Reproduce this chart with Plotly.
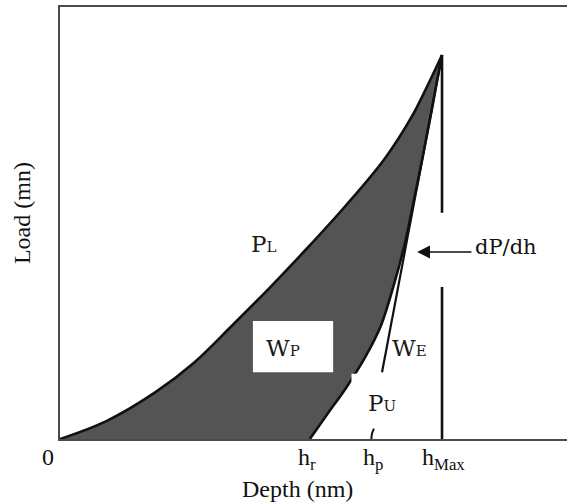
import plotly.graph_objects as go

# ---- data (depth in arbitrary units, h_max = 100; load, P_max = 100) ----
depth_load = [0, 12, 25, 35, 45, 55, 65, 75, 85, 92, 96, 100]
load_load = [0, 4.6, 12.2, 19.8, 29.5, 39.5, 50.0, 61.0, 73.0, 83.8, 91.6, 100]

depth_unload = [65.4, 70, 75, 80, 84, 87.5, 90.3, 92.4, 94.8, 96.9, 98.7, 100]
load_unload = [0, 6.5, 13.5, 21.5, 29.5, 40.5, 51.0, 61.0, 72.7, 83.5, 93.2, 100]

tangent_depth = [84.3, 100]
tangent_load = [17.4, 100]

h_r = 65.4
h_p = 81.7
h_max = 100
p_max = 100
gap_top, gap_bottom = 58.9, 39.6

tick_vals = [0, h_r, h_p, h_max]
tick_text = ["0", "h<sub>r</sub>", "h<sub>p</sub>", "h<sub>Max</sub>"]

SERIF = "Liberation Serif"
SLAB = "DejaVu Serif"
INK = "#111111"

fig = go.Figure()

# shaded region between loading and unloading curves
fig.add_trace(go.Scatter(
    x=depth_load + depth_unload[::-1],
    y=load_load + load_unload[::-1],
    mode="lines", fill="toself", fillcolor="#545454",
    line=dict(width=0, shape="spline", smoothing=1.0),
    hoverinfo="skip", showlegend=False))

# loading curve
fig.add_trace(go.Scatter(x=depth_load, y=load_load, mode="lines",
                         line=dict(color=INK, width=2.6, shape="spline", smoothing=1.0),
                         showlegend=False))
# unloading curve
fig.add_trace(go.Scatter(x=depth_unload, y=load_unload, mode="lines",
                         line=dict(color=INK, width=2.6, shape="spline", smoothing=1.0),
                         showlegend=False))
# tangent (dP/dh)
fig.add_trace(go.Scatter(x=tangent_depth, y=tangent_load, mode="lines",
                         line=dict(color=INK, width=2.2), showlegend=False))
# h_max vertical line with a gap for the arrow
fig.add_trace(go.Scatter(x=[h_max, h_max, None, h_max, h_max],
                         y=[p_max, gap_top, None, gap_bottom, 0], mode="lines",
                         line=dict(color=INK, width=2.6), showlegend=False))
# small h_p mark
fig.add_trace(go.Scatter(x=[h_p - 0.2, h_p, h_p + 0.5], y=[0, 1.5, 2.7], mode="lines",
                         line=dict(color=INK, width=2, shape="spline"), showlegend=False))

# white label box for Wp
fig.add_shape(type="rect", x0=50.5, x1=71.5, y0=17.4, y1=30.7,
              fillcolor="white", line=dict(width=0), layer="above")
# small white corner (Pu label box)
fig.add_shape(type="rect", x0=76.3, x1=79.5, y0=14.0, y1=17.0,
              fillcolor="white", line=dict(width=0), layer="above")


def lab(big, small, x, y, size=23, ssize=15):
    fig.add_annotation(x=x, y=y, xref="x", yref="y", showarrow=False,
                       text=f"{big}<span style='font-size:{ssize}px'>{small}</span>",
                       font=dict(family=SLAB, size=size, color="#1a1a1a"))


lab("P", "L", 53.2, 50.8)
lab("W", "P", 58.3, 23.6)
lab("W", "E", 91.4, 23.6)
lab("P", "U", 84.2, 9.3)

# dP/dh arrow
fig.add_annotation(x=93.5, y=48.7, ax=108.1, ay=48.7, xref="x", yref="y",
                   axref="x", ayref="y", text="", showarrow=True,
                   arrowhead=2, arrowsize=1.6, arrowwidth=1.6, arrowcolor=INK)
fig.add_annotation(x=108.0, y=50.0, xref="x", yref="y", xanchor="left",
                   showarrow=False, text="dP/dh",
                   font=dict(family=SLAB, size=21, color=INK))

# tick labels on depth axis
shifts = [-12.5, -3, 1, 1]
for v, t, s in zip(tick_vals, tick_text, shifts):
    fig.add_annotation(x=v, y=0, xref="x", yref="y", showarrow=False,
                       xanchor="center", yanchor="top", xshift=s,
                       yshift=-3, text=t,
                       font=dict(family=SERIF, size=24, color=INK))

# axis titles
fig.add_annotation(x=62.3, y=0, xref="x", yref="paper", yanchor="middle",
                   xanchor="center", yshift=-50, showarrow=False, text="Depth (nm)",
                   font=dict(family=SERIF, size=24, color=INK))
fig.add_annotation(x=0, y=0.523, xref="paper", yref="paper", xshift=-38,
                   xanchor="center", yanchor="middle",
                   showarrow=False, text="Load (mn)", textangle=-90,
                   font=dict(family=SERIF, size=24, color=INK))

fig.update_layout(
    width=567, height=502,
    margin=dict(l=60, r=0, t=7, b=63),
    paper_bgcolor="white", plot_bgcolor="white",
    xaxis=dict(range=[0, 132.72], showgrid=False, zeroline=False,
               showticklabels=False, ticks="", showline=True, mirror=True,
               linecolor="#4a4a4a", linewidth=2.4),
    yaxis=dict(range=[0, 112.5], showgrid=False, zeroline=False,
               showticklabels=False, ticks="", showline=True, mirror=False,
               linecolor="#4a4a4a", linewidth=2.2),
)

fig.write_html("out.html", config={"displayModeBar": False},
               post_script="document.body.style.margin='0';document.body.style.overflow='hidden';")
